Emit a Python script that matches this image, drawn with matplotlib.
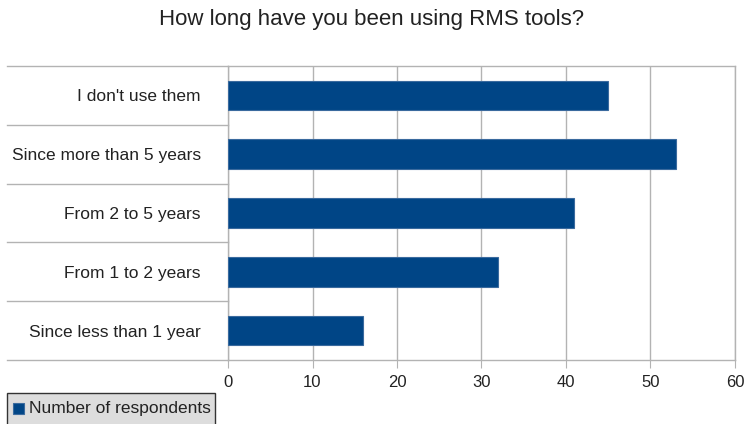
import matplotlib
matplotlib.use("Agg")
import matplotlib.pyplot as plt
from matplotlib.patches import Rectangle
from matplotlib.lines import Line2D

plt.rcParams['font.family'] = ['Liberation Sans', 'DejaVu Sans']

categories = ["Since less than 1 year", "From 1 to 2 years", "From 2 to 5 years",
              "Since more than 5 years", "I don't use them"]
values = [16, 32, 41, 53, 45]
series_name = "Number of respondents"
title = "How long have you been using RMS tools?"
xticks = [0, 10, 20, 30, 40, 50, 60]

W, H = 744, 424
fig = plt.figure(figsize=(W / 100, H / 100), dpi=100)
x0, x1, ytop, ybot = 228, 735, 66, 360
ax = fig.add_axes([x0 / W, 1 - ybot / H, (x1 - x0) / W, (ybot - ytop) / H])

bar_color = "#004586"
ax.barh(range(len(categories)), values, height=0.5, color=bar_color,
        edgecolor="#3a6a9e", linewidth=0.8, zorder=3)
ax.set_xlim(0, 60)
ax.set_ylim(-0.5, len(categories) - 0.5)
ax.set_xticks(xticks)
ax.set_xticklabels([str(t) for t in xticks], fontsize=12, color="#222222")
ax.set_yticks(range(len(categories)))
ax.set_yticklabels(categories, fontsize=12.5, color="#222222")
ax.tick_params(axis='y', length=0, pad=19.5)
ax.tick_params(axis='x', length=6, color="#b3b3b3", pad=5)
ax.grid(axis='x', color="#b3b3b3", linewidth=1, zorder=0)
for s in ax.spines.values():
    s.set_color("#b3b3b3")
    s.set_linewidth(1)

# category separator lines extending to the left
for i in range(len(categories) + 1):
    yv = i - 0.5
    ax.add_line(Line2D([-(x0 - 7) / ((x1 - x0) / 60), 0], [yv, yv],
                       color="#b3b3b3", linewidth=1, clip_on=False, zorder=1))

fig.text(0.5, 1 - 20 / H, title, ha='center', va='center', fontsize=16, color="#222222")

# legend box
lx0, lx1, ly0, ly1 = 7, 215, 393, 426
fig.patches.append(Rectangle((lx0 / W, 1 - ly1 / H), (lx1 - lx0) / W, (ly1 - ly0) / H,
                             transform=fig.transFigure, facecolor="#dddddd",
                             edgecolor="#333333", linewidth=1))
fig.patches.append(Rectangle((13 / W, 1 - 414 / H), 11 / W, 11 / H,
                             transform=fig.transFigure, facecolor=bar_color,
                             edgecolor="#3a6a9e", linewidth=0.8))
fig.text(29 / W, 1 - 409 / H, series_name, ha='left', va='center', fontsize=12.5, color="#222222")

fig.savefig("out.png", dpi=100)
